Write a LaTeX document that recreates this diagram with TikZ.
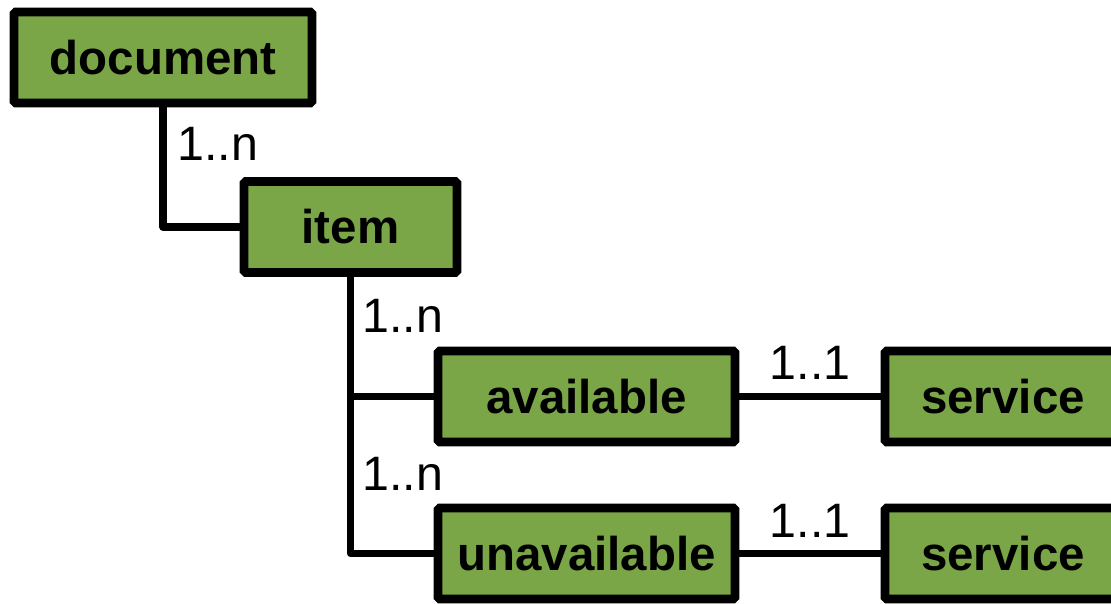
\documentclass[tikz,border=0pt]{standalone}
\usepackage{fontspec}
\setmainfont{Liberation Sans}
\usetikzlibrary{positioning}
\definecolor{boxgreen}{RGB}{122,166,71}

\begin{document}
\begin{tikzpicture}[x=0.02cm,y=-0.02cm,
  elem/.style={draw=black,line width=5pt,fill=boxgreen,rounded corners=1pt,minimum height=1.82cm,inner sep=0pt,font=\fontsize{27}{32}\selectfont\bfseries},
  link/.style={line width=4pt,line join=round},
  card/.style={inner sep=0pt,font=\fontsize{27.5}{32}\selectfont}]
\useasboundingbox (0,0) rectangle (1111,603);

%elements
\node[elem,minimum width=5.96cm] (doc) at (163,57.5) {document};
\node[elem,minimum width=4.26cm] (item) at (350.5,227) {item};
\node[elem,minimum width=5.94cm] (avail) at (586.5,396.5) {available};
\node[elem,minimum width=5.94cm] (unavail) at (586.5,553.5) {unavailable};
\node[elem,minimum width=4.72cm] (serv1) at (1003,396.5) {service};
\node[elem,minimum width=4.72cm] (serv2) at (1003,553.5) {service};

%links
\draw[link] (doc.south) |- (item.west);
\draw[link] (item.south) |- (avail.west);
\draw[link] (item.south) |- (unavail.west);
\draw[link] (avail) -- node[card,anchor=base,yshift=9.4pt] {1..1} (serv1);
\draw[link] (unavail) -- node[card,anchor=base,yshift=9.4pt] {1..1} (serv2);

%cardinalities
\node[card,anchor=base west] (c1) at (177,160) {1..n};
\node[card,anchor=base west] (c2) at (362,332) {1..n};
\node[card,anchor=base west] (c3) at (362,490) {1..n};
\end{tikzpicture}
\end{document}
